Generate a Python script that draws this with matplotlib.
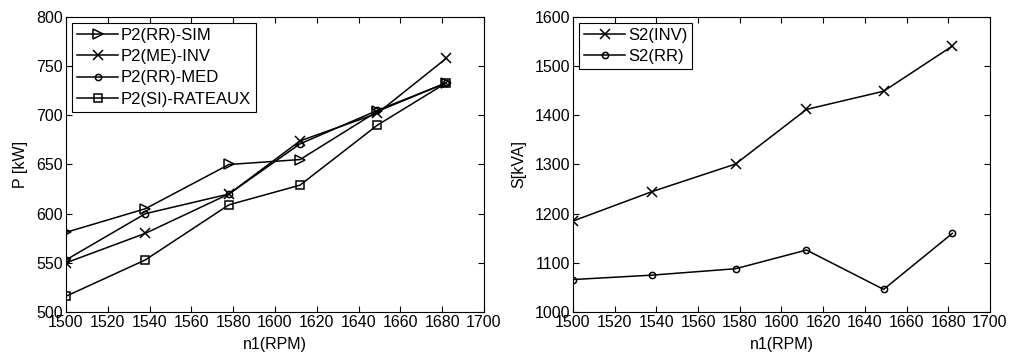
import matplotlib
matplotlib.use("Agg")
import matplotlib.pyplot as plt

plt.rcParams['font.family'] = ['Liberation Sans', 'DejaVu Sans']
plt.rcParams['font.size'] = 11.5

# vitesse n1 (RPM)
n1 = [1500, 1538, 1578, 1612, 1649, 1682]

# puissances P2 [kW]
p2_rr_sim = [581, 605, 650, 655, 704, 733]
p2_me_inv = [550, 580, 620, 674, 702, 758]
p2_rr_med = [553, 600, 620, 671, 705, 733]
p2_si_rat = [516, 553, 609, 629, 690, 733]

# puissances apparentes S2 [kVA]
s2_inv = [1185, 1245, 1301, 1412, 1449, 1541]
s2_rr = [1066, 1075, 1088, 1126, 1046, 1160]

fig = plt.figure(figsize=(10.12, 3.56), dpi=100)
ax1 = fig.add_axes([0.0652, 0.1236, 0.413, 0.8287])
ax2 = fig.add_axes([0.5662, 0.1236, 0.412, 0.8287])

st = dict(color='black', lw=1.1, mfc='none', mec='black', mew=1.1)
ax1.plot(n1, p2_rr_sim, marker='>', ms=6.5, label='P2(RR)-SIM', **st)
ax1.plot(n1, p2_me_inv, marker='x', ms=7, label='P2(ME)-INV', **st)
ax1.plot(n1, p2_rr_med, marker='o', ms=4.5, label='P2(RR)-MED', **st)
ax1.plot(n1, p2_si_rat, marker='s', ms=6, label='P2(SI)-RATEAUX', **st)
ax1.set_ylim(500, 800)
ax1.set_ylabel('P [kW]', labelpad=6)

ax2.plot(n1, s2_inv, marker='x', ms=7, label='S2(INV)', **st)
ax2.plot(n1, s2_rr, marker='o', ms=4.5, label='S2(RR)', **st)
ax2.set_ylim(1000, 1600)
ax2.set_ylabel('S[kVA]', labelpad=6)

for ax in (ax1, ax2):
    ax.set_xlim(1500, 1700)
    ax.set_xticks(range(1500, 1701, 20))
    ax.set_xlabel('n1(RPM)', labelpad=5)
    ax.tick_params(direction='in', top=True, right=True, length=4, pad=2)
    for s in ax.spines.values():
        s.set_linewidth(0.8)
    leg = ax.legend(loc='upper left', fancybox=False, framealpha=1,
                    edgecolor='black', handlelength=2.5, handletextpad=0.15,
                    labelspacing=0.38, borderpad=0.3, borderaxespad=0.35,
                    fontsize=12)
    leg.get_frame().set_linewidth(0.8)

fig.savefig('out.png', dpi=100)
